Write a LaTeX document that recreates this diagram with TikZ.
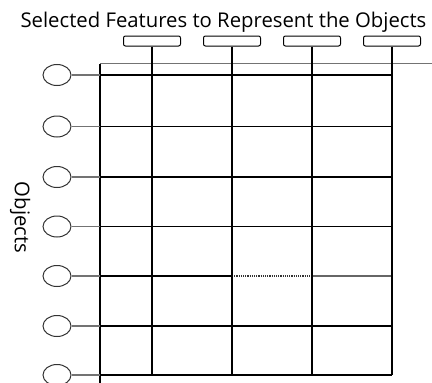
\documentclass[tikz,border=0pt]{standalone}
\usepackage{fontspec}
\setmainfont{Open Sans}
\usetikzlibrary{shapes.geometric}
\begin{document}
\begin{tikzpicture}[x=1pt,y=-1pt,
  featbox/.style={draw=black,line width=1pt,rounded corners=2pt,minimum width=57pt,minimum height=10pt,inner sep=0pt},
  objcirc/.style={draw=black!80,line width=1pt,ellipse,minimum width=28pt,minimum height=21pt,inner sep=0pt},
  rowline/.style={draw=black,line width=1.3pt},
  stub/.style={draw=black!55,line width=1.4pt},
  colline/.style={draw=black,line width=1.6pt},
  thinline/.style={draw=black!55,line width=1pt},
  lbl/.style={font=\fontsize{20.3}{23}\selectfont,inner sep=0pt}]
\useasboundingbox (0,0) rectangle (432,383);
% title
\node[lbl,anchor=base] (title) at (223.5,27.7) {Selected Features to Represent the Objects};
% objects label
\node[lbl,anchor=base,rotate=-90] (objlbl) at (15,217.5) {Objects};
% feature boxes
\foreach \i/\x in {1/152,2/232,3/312,4/392}{
  \node[featbox] (f\i) at (\x,41) {};
  \coordinate (b\i) at (\x,375);
}
% top line
\coordinate (tl) at (100,63.5);
\coordinate (tr) at (432,63.5);
\draw[thinline] (tl) -- (tr);
% left border
\coordinate (lb) at (100,383);
\draw[draw=black,line width=1.1pt] (tl) -- (lb);
% object circles and row lines
\foreach \j/\y in {1/75,2/126.5,3/177,4/226.5,5/276,6/326,7/375}{
  \node[objcirc] (o\j) at (57,\y) {};
  \coordinate (g\j) at (100,\y);
  \coordinate (e\j) at (392,\y);
}
\foreach \j in {1,...,7}{
  \draw[stub] (o\j.east) -- (g\j);
}
\foreach \j in {1,2,3,4,6,7}{
  \draw[rowline] (g\j) -- (e\j);
}
% row 5 with a dotted middle segment
\coordinate (m5a) at (232,276);
\coordinate (m5b) at (312,276);
\draw[rowline] (g5) -- (m5a);
\draw[draw=black!80,line width=1.2pt,densely dotted] (m5a) -- (m5b);
\draw[draw=black!60,line width=1.2pt] (m5b) -- (e5);
% feature columns
\foreach \i in {1,...,4}{
  \draw[colline] (f\i.south) -- (b\i);
}
\end{tikzpicture}
\end{document}
